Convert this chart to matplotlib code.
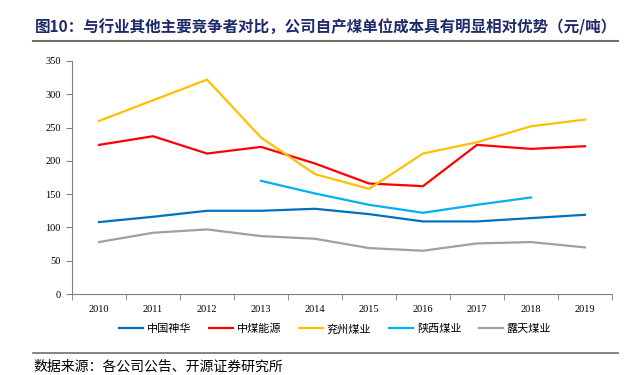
import numpy as np
import matplotlib.pyplot as plt
from matplotlib.lines import Line2D

plt.rcParams['font.family'] = ['Noto Sans CJK SC', 'DejaVu Sans']

years = [2010, 2011, 2012, 2013, 2014, 2015, 2016, 2017, 2018, 2019]
shenhua = [108, 116, 125, 125, 128, 120, 109, 109, 114, 119]
zhongmei = [224, 237, 211, 221, 196, 166, 162, 224, 218, 222]
yanzhou = [260, 291, 322, 235, 180, 158, 211, 228, 252, 262]
shaanxi_years = [2013, 2014, 2015, 2016, 2017, 2018]
shaanxi = [170, 151, 134, 122, 134, 145]
lutian = [78, 92, 97, 87, 83, 69, 65, 76, 78, 70]

names = ['中国神华', '中煤能源', '兖州煤业', '陕西煤业', '露天煤业']
colors = ['#0070C0', '#FF0000', '#FFC000', '#00B0F0', '#A0A0A0']

fig = plt.figure(figsize=(6.3, 3.75), dpi=100)
ax = fig.add_axes([72/630, 1-294/375, 540/630, 233/375])

series = [(years, shenhua), (years, zhongmei), (years, yanzhou),
          (shaanxi_years, shaanxi), (years, lutian)]
for (xs, ys), c in zip(series, colors):
    ax.plot(xs, ys, color=c, lw=1.6)

ax.set_xlim(2009.5, 2019.5)
ax.set_ylim(0, 350)
ax.set_yticks(np.arange(0, 351, 50))
ax.set_xticks(years)
ax.set_xticks(np.arange(2009.5, 2020, 1), minor=True)
ax.tick_params(axis='x', which='major', length=0, pad=8)
ax.tick_params(axis='x', which='minor', length=4, color='#808080')
ax.tick_params(axis='y', length=4, color='#808080', pad=4)
for lab in ax.get_xticklabels() + ax.get_yticklabels():
    lab.set_fontfamily('Liberation Serif')
    lab.set_fontsize(7.5)
for s in ['top', 'right']:
    ax.spines[s].set_visible(False)
for s in ['left', 'bottom']:
    ax.spines[s].set_color('#808080')

handles = [Line2D([], [], color=c, lw=1.6) for c in colors]
fig.legend(handles, names, loc='center', bbox_to_anchor=(335/630, 1-329/375),
           ncol=5, frameon=False, fontsize=8, handlelength=2.2,
           columnspacing=1.6, handletextpad=0.3)

fig.text(35/630, 1-27/375, '图10：与行业其他主要竞争者对比，公司自产煤单位成本具有明显相对优势（元/吨）',
         fontsize=11.2, fontweight='bold', color='#1F2A6B', va='center')
fig.add_artist(Line2D([33/630, 618/630], [1-41/375, 1-41/375], color='#707070', lw=1.5))
fig.add_artist(Line2D([33/630, 618/630], [1-353/375, 1-353/375], color='#707070', lw=1.2))
fig.text(33/630, 1-367/375, '数据来源：各公司公告、开源证券研究所', fontsize=10, va='center')

fig.savefig('out.png', dpi=100)
